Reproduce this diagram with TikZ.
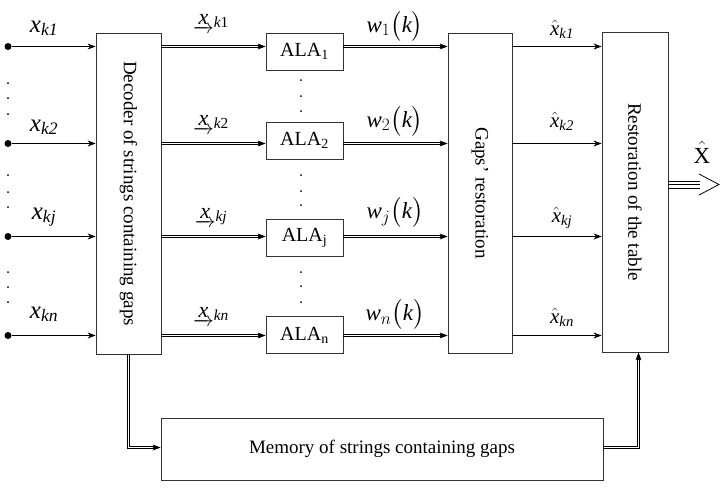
\documentclass[tikz,border=0pt]{standalone}
\usepackage{amsmath}
\usepackage{fontspec}
\setmainfont{Liberation Serif}
\usetikzlibrary{arrows.meta,calc}
\newcommand\dblh[2]{%
  \coordinate (dhA) at (#1); \coordinate (dhB) at (#2);
  \draw[dline] ([yshift=1pt]dhA) -- ([yshift=1pt,xshift=-4pt]dhB);
  \draw[dline] ([yshift=-1pt]dhA) -- ([yshift=-1pt,xshift=-4pt]dhB);
  \draw[arr] ([xshift=-8pt]dhB) -- (dhB);}
\begin{document}
\begin{tikzpicture}[x=1pt,y=-1pt,
  box/.style={draw=black!80, line width=0.8pt, inner sep=0pt, font=\fontsize{19}{19}\selectfont},
  alabox/.style={box, minimum width=77pt, minimum height=37pt, font=\fontsize{20}{20}\selectfont},
  arr/.style={line width=0.8pt, -{Stealth[length=8pt,width=6pt]}},
  dline/.style={line width=0.9pt},
  inlab/.style={font=\fontsize{25}{25}\selectfont, inner sep=0pt, anchor=base},
  ulab/.style={font=\fontsize{22}{22}\selectfont, inner sep=0pt, anchor=base},
  wlab/.style={font=\fontsize{23}{23}\selectfont, inner sep=0pt},
  hlab/.style={font=\fontsize{21}{21}\selectfont, inner sep=0pt, anchor=base},
  dot/.style={circle, fill=black, inner sep=0pt, minimum size=7pt}
]
\useasboundingbox (0,0) rectangle (724,491);
\fill[white] (0,0) rectangle (724,491);

% rows
\coordinate (r1) at (0,46.5);
\coordinate (r2) at (0,143.5);
\coordinate (rj) at (0,236.5);
\coordinate (rn) at (0,335.5);
\coordinate (mlev) at (0,447.5);

% boxes
\node[box, minimum width=65pt, minimum height=321pt] (dec) at (128.5,193.5)
  {\rotatebox{-90}{Decoder of strings containing gaps}};
\node[alabox] (a1) at (304.5,51.5) {ALA\textsubscript{1}};
\node[alabox] (a2) at (304.5,140.5) {ALA\textsubscript{2}};
\node[alabox] (aj) at (304.5,237.5) {ALA\textsubscript{j}};
\node[alabox] (an) at (304.5,335) {ALA\textsubscript{n}};
\node[box, minimum width=64pt, minimum height=320pt] (gap) at (480,193)
  {\rotatebox{-90}{Gaps' restoration}};
\node[box, minimum width=66pt, minimum height=320pt] (res) at (635,192)
  {\rotatebox{-90}{Restoration of the table}};
\node[box, minimum width=442pt, minimum height=62pt] (mem) at (382,449)
  {Memory of strings containing gaps};

% input dots
\node[dot] (i1) at (8,46.5) {};
\node[dot] (i2) at (8,143.5) {};
\node[dot] (ij) at (8,236.5) {};
\node[dot] (in) at (8,335.5) {};

% inputs
\draw[arr] (i1) -- (i1 -| dec.west);
\draw[arr] (i2) -- (i2 -| dec.west);
\draw[arr] (ij) -- (ij -| dec.west);
\draw[arr] (in) -- (in -| dec.west);

% decoder -> ALA
\dblh{dec.east |- r1}{a1.west |- r1}
\dblh{dec.east |- r2}{a2.west |- r2}
\dblh{dec.east |- rj}{aj.west |- rj}
\dblh{dec.east |- rn}{an.west |- rn}

% ALA -> gaps
\dblh{a1.east |- r1}{gap.west |- r1}
\dblh{a2.east |- r2}{gap.west |- r2}
\dblh{aj.east |- rj}{gap.west |- rj}
\dblh{an.east |- rn}{gap.west |- rn}

% gaps -> restoration
\draw[arr] (gap.east |- r1) -- (res.west |- r1);
\draw[arr] (gap.east |- r2) -- (res.west |- r2);
\draw[arr] (gap.east |- rj) -- (res.west |- rj);
\draw[arr] (gap.east |- rn) -- (res.west |- rn);

% decoder -> memory
\coordinate (mw) at (mem.west |- mlev);
\draw[dline] ([xshift=-1pt]dec.south) |- ([yshift=-1pt,xshift=-4pt]mw);
\draw[dline] ([xshift=1pt]dec.south) |- ([yshift=1pt,xshift=-4pt]mw);
\draw[arr] ([xshift=-8pt]mw) -- (mw);

% memory -> restoration
\coordinate (me) at (mem.east |- mlev);
\coordinate (rb) at ([xshift=3.5pt]res.south);
\draw[dline] ([yshift=-1pt]me) -| ([xshift=1pt,yshift=-4pt]rb);
\draw[dline] ([yshift=1pt]me) -| ([xshift=-1pt,yshift=-4pt]rb);
\draw[arr] ([yshift=-8pt]rb) -- (rb);

% output triple arrow
\coordinate (o1) at (700,184.5);
\draw[line width=0.8pt] ([yshift=-3.5pt]res.east |- o1) -- ([yshift=-3.5pt]o1)
  (res.east |- o1) -- (o1)
  ([yshift=3.5pt]res.east |- o1) -- ([yshift=3.5pt]o1);
\draw[line width=0.8pt] (699,174) -- (719,184.5) -- (699,195);
\node[font=\fontsize{23}{23}\selectfont, inner sep=0pt, anchor=base] (X) at (702,163) {$\hat{\text{X}}$};

% input labels
\node[inlab] (l1) at (44,32) {$\text{\itshape x}_{\text{\itshape k1}}$};
\node[inlab] (l2) at (44,131) {$\text{\itshape x}_{\text{\itshape k2}}$};
\node[inlab] (lj) at (44,219) {$\text{\itshape x}_{\text{\itshape kj}}$};
\node[inlab] (ln) at (44,318) {$\text{\itshape x}_{\text{\itshape kn}}$};

% underlined labels
\node[ulab] (u1) at (211,24) {$\underrightarrow{\text{\itshape x}}_{\text{\itshape k}\text{1}}$};
\node[ulab] (u2) at (211,125) {$\underrightarrow{\text{\itshape x}}_{\text{\itshape k}\text{2}}$};
\node[ulab] (uj) at (211,218) {$\underrightarrow{\text{\itshape x}}_{\text{\itshape kj}}$};
\node[ulab] (un) at (211,317) {$\underrightarrow{\text{\itshape x}}_{\text{\itshape kn}}$};

% w labels
\node[wlab] (w1) at (395,26) {$\text{\itshape w}_{1}\bigl(\text{\itshape k}\bigr)$};
\node[wlab] (w2) at (395,121) {$\text{\itshape w}_{2}\bigl(\text{\itshape k}\bigr)$};
\node[wlab] (wj) at (395,212.5) {$\text{\itshape w}_{j}\bigl(\text{\itshape k}\bigr)$};
\node[wlab] (wn) at (395,314.5) {$\text{\itshape w}_{n}\bigl(\text{\itshape k}\bigr)$};

% hat labels
\node[hlab] (h1) at (562,35) {$\hat{\text{\itshape x}}_{\text{\itshape k1}}$};
\node[hlab] (h2) at (562,127) {$\hat{\text{\itshape x}}_{\text{\itshape k2}}$};
\node[hlab] (hj) at (562,222) {$\hat{\text{\itshape x}}_{\text{\itshape kj}}$};
\node[hlab] (hn) at (562,323) {$\hat{\text{\itshape x}}_{\text{\itshape kn}}$};

% vertical dots left
\foreach \y in {83,98,114,175,192,207,272,287,302}
  \fill (8,\y) circle (1pt);
% vertical dots middle
\foreach \y in {80,96,111,175,191,205,272,286,302}
  \fill (301,\y) circle (1pt);
\end{tikzpicture}
\end{document}
